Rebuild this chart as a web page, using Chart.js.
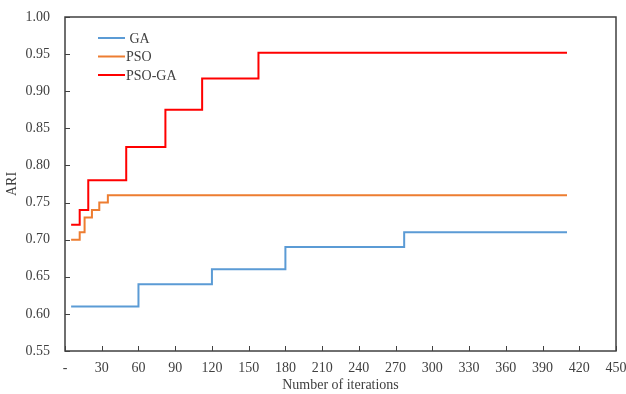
<!DOCTYPE html>
<html>
<head>
<meta charset="utf-8">
<script src="https://cdn.jsdelivr.net/npm/chart.js@4"></script>
<style>
  body { margin: 0; background: #fff; }
  canvas { display: block; }
</style>
</head>
<body>
<canvas id="chart" width="626" height="394"></canvas>
<script>
// Series data (iteration where the value changes, ARI value)
const gaIters = [5, 60, 120, 180, 277, 410];
const gaValues = [0.61, 0.64, 0.66, 0.69, 0.71, 0.71];

const psoIters = [5, 12, 16, 22, 28, 35, 410];
const psoValues = [0.70, 0.71, 0.73, 0.74, 0.75, 0.76, 0.76];

const psoGaIters = [5, 12, 19, 50, 82, 112, 158, 410];
const psoGaValues = [0.72, 0.74, 0.78, 0.825, 0.875, 0.917, 0.952, 0.952];

const seriesNames = ["GA", "PSO", "PSO-GA"];
const seriesColors = ["#5B9BD5", "#ED7D31", "#FF0000"];

const xMin = 0, xMax = 450, xStep = 30;
const yMin = 0.55, yMax = 1.00, yStep = 0.05;

const FONT = "'Liberation Serif', 'Times New Roman', serif";
const TEXT = "#404040";

const toPoints = (xs, ys) => xs.map((x, i) => ({ x: x, y: ys[i] }));

// Frame, inward ticks and the legend inside the plot
const framePlugin = {
  id: "frame",
  afterDraw(chart) {
    const { ctx, chartArea: a, scales } = chart;
    ctx.save();
    ctx.strokeStyle = "#404040";
    ctx.lineWidth = 1.5;
    ctx.strokeRect(a.left, a.top, a.right - a.left, a.bottom - a.top);

    ctx.lineWidth = 1;
    ctx.beginPath();
    scales.x.ticks.forEach(t => {
      const px = Math.round(scales.x.getPixelForValue(t.value)) + 0.5;
      ctx.moveTo(px, a.bottom);
      ctx.lineTo(px, a.bottom - 5);
    });
    scales.y.ticks.forEach(t => {
      const py = Math.round(scales.y.getPixelForValue(t.value)) + 0.5;
      ctx.moveTo(a.left, py);
      ctx.lineTo(a.left + 5, py);
    });
    ctx.stroke();

    // legend
    ctx.font = "14px " + FONT;
    ctx.textBaseline = "middle";
    ctx.fillStyle = TEXT;
    chart.data.datasets.forEach((ds, i) => {
      const y = a.top + 21 + i * 18.5;
      ctx.strokeStyle = ds.borderColor;
      ctx.lineWidth = 2;
      ctx.beginPath();
      ctx.moveTo(a.left + 33, y);
      ctx.lineTo(a.left + 60, y);
      ctx.stroke();
      ctx.fillText((i === 0 ? " " : "") + ds.label, a.left + 61, y + 1);
    });
    ctx.restore();
  }
};

const datasets = [
  toPoints(gaIters, gaValues),
  toPoints(psoIters, psoValues),
  toPoints(psoGaIters, psoGaValues)
].map((pts, i) => ({
  label: seriesNames[i],
  data: pts,
  borderColor: seriesColors[i],
  borderWidth: 2,
  pointRadius: 0,
  stepped: "before",
  fill: false
}));

new Chart(document.getElementById("chart").getContext("2d"), {
  type: "line",
  data: { datasets: datasets },
  options: {
    responsive: false,
    animation: false,
    layout: { padding: { left: 0, right: 10, top: 17, bottom: 0 } },
    plugins: { legend: { display: false }, tooltip: { enabled: false } },
    scales: {
      x: {
        type: "linear",
        min: xMin,
        max: xMax,
        grid: { display: false, drawTicks: false },
        border: { display: false },
        ticks: {
          stepSize: xStep,
          padding: 9,
          color: TEXT,
          font: { family: FONT, size: 14 },
          maxRotation: 0,
          callback: v => v === 0 ? "-" : v
        },
        title: {
          display: true,
          text: "Number of iterations",
          color: TEXT,
          font: { family: FONT, size: 14 },
          padding: { top: 0, bottom: 0 }
        },
        afterFit: s => { s.height = 43; s.paddingLeft = 0; s.paddingRight = 0; }
      },
      y: {
        min: yMin,
        max: yMax,
        grid: { display: false, drawTicks: false },
        border: { display: false },
        ticks: {
          stepSize: yStep,
          padding: 15,
          color: TEXT,
          font: { family: FONT, size: 14 },
          callback: v => v.toFixed(2)
        },
        title: {
          display: true,
          text: "ARI",
          color: TEXT,
          font: { family: FONT, size: 14 },
          padding: { top: 4, bottom: 4 }
        },
        afterFit: s => { s.width = 65; s.paddingTop = 0; s.paddingBottom = 0; }
      }
    }
  },
  plugins: [framePlugin]
});
</script>
</body>
</html>
